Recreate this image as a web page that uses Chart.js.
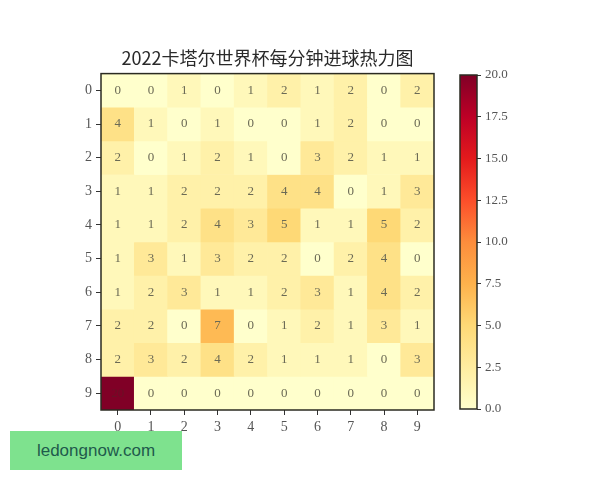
<!DOCTYPE html>
<html>
<head>
<meta charset="utf-8">
<script src="https://cdn.jsdelivr.net/npm/chart.js@4"></script>
<style>
  body { margin: 0; background: #fff; }
  #wrap { position: relative; width: 600px; height: 480px; }
  #main { position: absolute; left: 0; top: 0; }
  #cbar { position: absolute; left: 440px; top: 60px; }
  .mark {
    position: absolute; left: 10px; top: 431px; width: 172px; height: 39px;
    background: #7ee28e; color: #1f5a4c; font: 17px "Liberation Sans", Arial, sans-serif;
    line-height: 39px; text-align: center;
  }
</style>
</head>
<body>
<div id="wrap">
  <canvas id="main" width="600" height="480"></canvas>
  <canvas id="cbar" width="100" height="370"></canvas>
  <div class="mark">ledongnow.com</div>
</div>
<script>
const TITLE = '2022卡塔尔世界杯每分钟进球热力图';
const rowLabels = ['0', '1', '2', '3', '4', '5', '6', '7', '8', '9'];
const colLabels = ['0', '1', '2', '3', '4', '5', '6', '7', '8', '9'];
// goals per cell, row by row
const goals = [
    [0, 0, 1, 0, 1, 2, 1, 2, 0, 2],
    [4, 1, 0, 1, 0, 0, 1, 2, 0, 0],
    [2, 0, 1, 2, 1, 0, 3, 2, 1, 1],
    [1, 1, 2, 2, 2, 4, 4, 0, 1, 3],
    [1, 1, 2, 4, 3, 5, 1, 1, 5, 2],
    [1, 3, 1, 3, 2, 2, 0, 2, 4, 0],
    [1, 2, 3, 1, 1, 2, 3, 1, 4, 2],
    [2, 2, 0, 7, 0, 1, 2, 1, 3, 1],
    [2, 3, 2, 4, 2, 1, 1, 1, 0, 3],
    [20, 0, 0, 0, 0, 0, 0, 0, 0, 0],
];
const vMin = 0, vMax = 20;
const cbTicks = [0, 2.5, 5, 7.5, 10, 12.5, 15, 17.5, 20];

// matplotlib YlOrRd
const YLORRD = ['#ffffcc', '#ffeda0', '#fed976', '#feb24c', '#fd8d3c', '#fc4e2a', '#e31a1c', '#bd0026', '#800026'];

function hexRgb(h) {
    return [1, 3, 5].map(i => parseInt(h.slice(i, i + 2), 16));
}
function colorFor(v) {
    let t = Math.max(0, Math.min(1, (v - vMin) / (vMax - vMin))) * (YLORRD.length - 1);
    const i = Math.min(Math.floor(t), YLORRD.length - 2);
    const f = t - i;
    const a = hexRgb(YLORRD[i]), b = hexRgb(YLORRD[i + 1]);
    const c = a.map((x, k) => Math.round(x + (b[k] - x) * f));
    return `rgb(${c[0]},${c[1]},${c[2]})`;
}

const tickFont = { family: '"Liberation Serif", "DejaVu Serif", serif', size: 14 };

const frame = {
    id: 'frame',
    afterDraw(chart) {
        const a = chart.chartArea, ctx = chart.ctx;
        ctx.save();
        ctx.strokeStyle = '#2b2b22';
        ctx.lineWidth = 1.5;
        ctx.strokeRect(a.left, a.top, a.right - a.left, a.bottom - a.top);
        ctx.restore();
    }
};

const cellText = {
    id: 'cellText',
    afterDatasetsDraw(chart) {
        const ctx = chart.ctx, xs = chart.scales.x, ys = chart.scales.y;
        ctx.save();
        ctx.font = '13px "Liberation Serif", "DejaVu Serif", serif';
        ctx.textAlign = 'center';
        ctx.textBaseline = 'middle';
        goals.forEach((row, r) => {
            row.forEach((v, c) => {
                ctx.fillStyle = v >= 15 ? '#6a1026' : '#6b6a55';
                ctx.fillText(String(v), xs.getPixelForValue(c), ys.getPixelForValue(r));
            });
        });
        ctx.restore();
    }
};

new Chart(document.getElementById('main').getContext('2d'), {
    type: 'bar',
    data: {
        labels: colLabels,
        datasets: goals.map((row, r) => ({
            label: rowLabels[r],
            data: row.map(() => [r - 0.5, r + 0.5]),
            backgroundColor: row.map(colorFor),
            borderWidth: 0,
            barPercentage: 1,
            categoryPercentage: 1,
            grouped: false,
        }))
    },
    options: {
        responsive: false,
        animation: false,
        layout: { padding: { left: 75, right: 166, top: 47, bottom: 42 } },
        plugins: {
            legend: { display: false },
            tooltip: { enabled: false },
            title: {
                display: true,
                text: TITLE,
                fullSize: false,
                color: '#2a2a2a',
                font: { family: '"Noto Sans CJK SC", sans-serif', size: 18, weight: 'normal' },
                padding: { top: 0, bottom: 5 }
            }
        },
        scales: {
            x: {
                type: 'category',
                position: 'bottom',
                grid: { display: true, drawOnChartArea: false, drawTicks: true, tickLength: 5, offset: false, color: '#333' },
                border: { display: false },
                ticks: { color: '#555', font: tickFont, padding: 4, maxRotation: 0 },
                afterFit: s => { s.height = 28; }
            },
            y: {
                type: 'linear',
                min: -0.5,
                max: 9.5,
                reverse: true,
                afterBuildTicks: s => { s.ticks = rowLabels.map((_, i) => ({ value: i })); },
                grid: { display: true, drawOnChartArea: false, drawTicks: true, tickLength: 5, color: '#333' },
                border: { display: false },
                ticks: { color: '#555', font: tickFont, padding: 4, callback: v => rowLabels[v] },
                afterFit: s => { s.width = 26; }
            }
        }
    },
    plugins: [cellText, frame]
});

new Chart(document.getElementById('cbar').getContext('2d'), {
    type: 'bar',
    data: {
        labels: ['scale'],
        datasets: [{
            data: [[vMin, vMax]],
            borderWidth: 0,
            barPercentage: 1,
            categoryPercentage: 1,
            backgroundColor: ctx => {
                const a = ctx.chart.chartArea;
                if (!a) return YLORRD[0];
                const g = ctx.chart.ctx.createLinearGradient(0, a.bottom, 0, a.top);
                YLORRD.forEach((c, i) => g.addColorStop(i / (YLORRD.length - 1), c));
                return g;
            }
        }]
    },
    options: {
        responsive: false,
        animation: false,
        layout: { padding: { left: 20, right: 23, top: 15, bottom: 21 } },
        plugins: { legend: { display: false }, tooltip: { enabled: false } },
        scales: {
            x: { display: false },
            y: {
                position: 'right',
                min: vMin,
                max: vMax,
                afterBuildTicks: s => { s.ticks = cbTicks.map(v => ({ value: v })); },
                grid: { display: true, drawOnChartArea: false, drawTicks: true, tickLength: 4, color: '#333' },
                border: { display: false },
                ticks: { color: '#555', font: { family: tickFont.family, size: 13 }, padding: 4, callback: v => v.toFixed(1) },
                afterFit: s => { s.width = 40; }
            }
        }
    },
    plugins: [frame]
});
</script>
</body>
</html>
